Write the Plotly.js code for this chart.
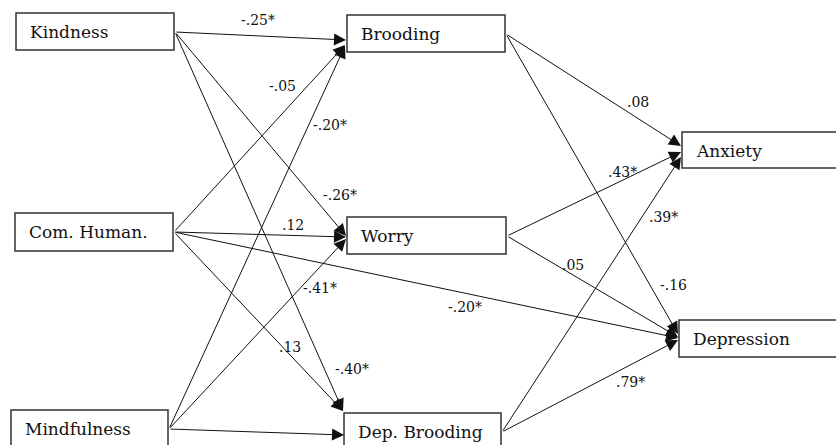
<!DOCTYPE html>
<html>
<head>
<meta charset="utf-8">
<script src="https://cdn.plot.ly/plotly-3.0.1.min.js"></script>
<style>html,body{margin:0;padding:0;background:#fff;}#chart{width:836px;height:445px;}</style>
</head>
<body>
<div id="chart"></div>
<script>
// ---- data ----
var nodeNames = ["Kindness", "Com. Human.", "Mindfulness", "Brooding", "Worry", "Dep. Brooding", "Anxiety", "Depression"];
var pathFrom  = ["Kindness", "Com. Human.", "Mindfulness", "Kindness", "Com. Human.", "Mindfulness", "Com. Human.", "Kindness", "Mindfulness", "Brooding", "Worry", "Dep. Brooding", "Worry", "Brooding", "Com. Human.", "Dep. Brooding"];
var pathTo    = ["Brooding", "Brooding", "Brooding", "Worry", "Worry", "Worry", "Dep. Brooding", "Dep. Brooding", "Dep. Brooding", "Anxiety", "Anxiety", "Anxiety", "Depression", "Depression", "Depression", "Depression"];
var pathCoef  = [-0.25, -0.05, -0.20, -0.26, 0.12, -0.41, 0.13, -0.40, -0.27, 0.08, 0.43, 0.39, 0.05, -0.16, -0.20, 0.79];
var pathSig   = [true, false, true, true, false, true, false, true, true, false, true, true, false, false, true, true];

// ---- layout (positions/styles, in pixel units of the canvas) ----
var nodeBox = {
  "Kindness":      [16, 174, 13, 50],
  "Com. Human.":   [15, 173, 213, 251],
  "Mindfulness":   [11, 168, 410, 470],
  "Brooding":      [347, 505, 15, 52],
  "Worry":         [347, 506, 217, 254],
  "Dep. Brooding": [344, 501, 413, 470],
  "Anxiety":       [682, 845, 132, 168],
  "Depression":    [679, 845, 320, 357]
};
var textDy = 19;
var tipDy  = [6, 11, 12, 0, 1, 3, -21, -21, 3, -5, 1, 6, -2, -5, -1, 1];
var tipDx  = [-1, -2, -2, -1, -1, -1, -1, -1, 0, -1, -1, -1, -1, -1, -1, -1];
var labelXY = [[258,20],[282,86],[330,125],[340,195],[293,225],[320,288],[290,347],[352,369],[250,446],[638,102],[622,172],[663,217],[573,265],[673,285],[465,307],[630,382]];

function fmt(v, s) {
  var a = Math.abs(v).toFixed(2).replace(/^0/, "");
  return (v < 0 ? "-" : "") + a + (s ? "*" : "");
}

var shapes = [];
var annotations = [];
var serif = "DejaVu Serif";

nodeNames.forEach(function (n) {
  var b = nodeBox[n];
  shapes.push({type: "rect", xref: "x", yref: "y", x0: b[0], x1: b[1], y0: b[2], y1: b[3],
    line: {color: "#333", width: 1.5}, fillcolor: "rgba(0,0,0,0)", layer: "above"});
  annotations.push({xref: "x", yref: "y", x: b[0] + 12, y: b[2] + textDy, text: n, showarrow: false,
    xanchor: "left", yanchor: "middle", font: {family: serif, size: 17, color: "#111"}});
});

for (var i = 0; i < pathFrom.length; i++) {
  var s = nodeBox[pathFrom[i]], t = nodeBox[pathTo[i]];
  var tx = s[1] + 1, ty = s[2] + textDy;
  var hx = t[0] + tipDx[i], hy = t[2] + textDy + tipDy[i];
  annotations.push({xref: "x", yref: "y", axref: "x", ayref: "y", x: hx, y: hy, ax: tx, ay: ty,
    text: "", showarrow: true, arrowhead: 2, arrowsize: 2.4, arrowwidth: 1, arrowcolor: "#111", standoff: 0});
  annotations.push({xref: "x", yref: "y", x: labelXY[i][0], y: labelXY[i][1], text: fmt(pathCoef[i], pathSig[i]),
    showarrow: false, xanchor: "center", yanchor: "middle", font: {family: serif, size: 14, color: "#111"}});
}

var layout = {
  width: 836, height: 445,
  margin: {l: 0, r: 0, t: 0, b: 0},
  paper_bgcolor: "#fff", plot_bgcolor: "#fff",
  font: {family: serif},
  xaxis: {range: [0, 836], visible: false, fixedrange: true},
  yaxis: {range: [445, 0], visible: false, fixedrange: true},
  shapes: shapes,
  annotations: annotations,
  showlegend: false
};

Plotly.newPlot("chart", [{x: [], y: [], type: "scatter", mode: "markers"}], layout, {displayModeBar: false, staticPlot: true});
</script>
</body>
</html>
